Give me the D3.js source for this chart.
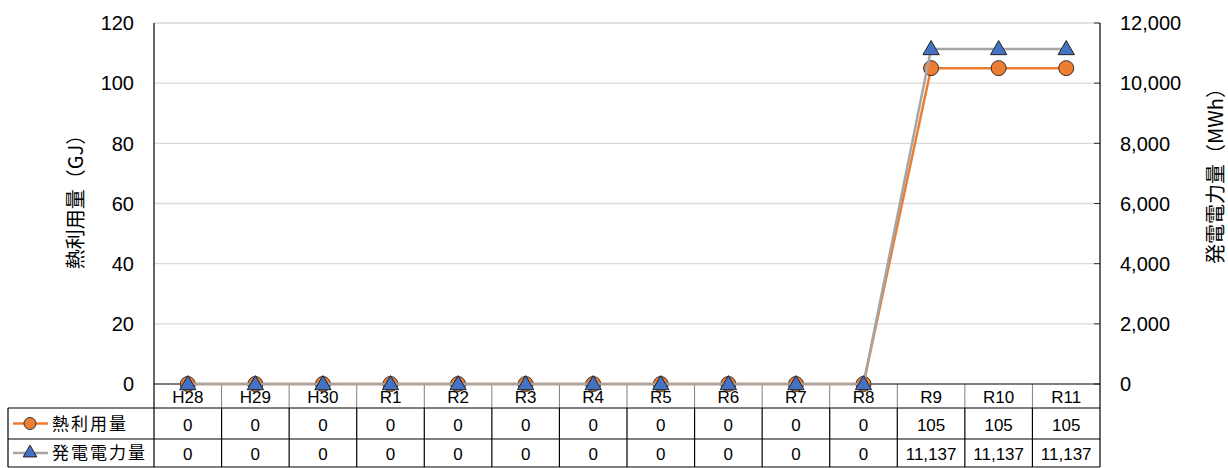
<!doctype html>
<html>
<head>
<meta charset="utf-8">
<script src="https://cdn.jsdelivr.net/npm/d3@7"></script>
<style>
  body { margin: 0; background: #fff; }
  svg text { font-family: "Liberation Sans", Arial, "Noto Sans CJK JP", sans-serif; fill: #000; }
  .jp { font-family: "Noto Sans CJK JP", sans-serif; }
</style>
</head>
<body>
<div id="chart"></div>
<script>
// data
const categories = ['H28', 'H29', 'H30', 'R1', 'R2', 'R3', 'R4', 'R5', 'R6', 'R7', 'R8', 'R9', 'R10', 'R11'];
const heatValues = [0, 0, 0, 0, 0, 0, 0, 0, 0, 0, 0, 105, 105, 105];
const powerValues = [0, 0, 0, 0, 0, 0, 0, 0, 0, 0, 0, 11137, 11137, 11137];
const leftTicks = [0, 20, 40, 60, 80, 100, 120];
const rightTicks = [0, 2000, 4000, 6000, 8000, 10000, 12000];
const seriesNames = ['熱利用量', '発電電力量'];
const axisTitles = ['熱利用量（GJ）', '発電電力量（MWh）'];

const W = 1228, H = 468;
const plotL = 154, plotR = 1100, plotT = 23, plotB = 384;
const rowTop = 408, rowMid = 439, rowBot = 467, tableL = 8;

const svg = d3.select('#chart').append('svg')
  .attr('width', W).attr('height', H);

const x = d3.scaleBand().domain(categories).range([plotL, plotR]).padding(0);
const yL = d3.scaleLinear().domain([0, 120]).range([plotB, plotT]);
const yR = d3.scaleLinear().domain([0, 12000]).range([plotB, plotT]);
const fmt = d3.format(',');

// gridlines
svg.append('g').selectAll('line').data(leftTicks.filter(d => d > 0)).join('line')
  .attr('x1', plotL).attr('x2', plotR)
  .attr('y1', d => yL(d)).attr('y2', d => yL(d))
  .attr('stroke', '#d9d9d9').attr('stroke-width', 1.3);

// left tick labels
svg.append('g').selectAll('text').data(leftTicks).join('text')
  .attr('x', 134).attr('y', d => yL(d)).attr('dy', '0.36em')
  .attr('text-anchor', 'end').style('font-size', '20px')
  .text(d => d);

// right axis: inner ticks + labels
svg.append('g').selectAll('line').data(rightTicks).join('line')
  .attr('x1', plotR - 6).attr('x2', plotR)
  .attr('y1', d => yR(d)).attr('y2', d => yR(d))
  .attr('stroke', '#333').attr('stroke-width', 1);
svg.append('g').selectAll('text').data(rightTicks).join('text')
  .attr('x', 1120).attr('y', d => yR(d)).attr('dy', '0.36em')
  .attr('text-anchor', 'start').style('font-size', '20px')
  .text(d => fmt(d));

// axis titles
svg.append('text').attr('class', 'jp')
  .attr('transform', 'translate(83,197) rotate(-90)')
  .attr('text-anchor', 'middle').style('font-size', '20px')
  .text(axisTitles[0]);
svg.append('text').attr('class', 'jp')
  .attr('transform', 'translate(1223,171) rotate(-90)')
  .attr('text-anchor', 'middle').style('font-size', '20px')
  .text(axisTitles[1]);

// table lines
const tbl = svg.append('g');
// column separators in the category row (lighter)
tbl.selectAll('line.cat').data(categories.slice(1)).join('line').attr('class', 'cat')
  .attr('x1', d => x(d)).attr('x2', d => x(d))
  .attr('y1', plotB).attr('y2', rowTop)
  .attr('stroke', '#7f7f7f').attr('stroke-width', 1);
tbl.selectAll('line.col').data(categories.slice(1)).join('line').attr('class', 'col')
  .attr('x1', d => x(d)).attr('x2', d => x(d))
  .attr('y1', rowTop).attr('y2', rowBot)
  .attr('stroke', '#000').attr('stroke-width', 1.2);
[rowTop, rowMid, rowBot].forEach(yy => {
  tbl.append('line').attr('x1', tableL).attr('x2', plotR)
    .attr('y1', yy).attr('y2', yy).attr('stroke', '#000').attr('stroke-width', 1.2);
});
tbl.append('line').attr('x1', tableL).attr('x2', tableL)
  .attr('y1', rowTop).attr('y2', rowBot).attr('stroke', '#000').attr('stroke-width', 1.2);

// axis lines
svg.append('line').attr('x1', plotL).attr('x2', plotL).attr('y1', plotT).attr('y2', rowBot)
  .attr('stroke', '#000').attr('stroke-width', 1.2);
svg.append('line').attr('x1', plotR).attr('x2', plotR).attr('y1', plotT).attr('y2', rowBot)
  .attr('stroke', '#000').attr('stroke-width', 1.2);
svg.append('line').attr('x1', plotL).attr('x2', plotR).attr('y1', plotB).attr('y2', plotB)
  .attr('stroke', '#000').attr('stroke-width', 1.2);

// category labels
svg.append('g').selectAll('text').data(categories).join('text')
  .attr('x', d => x(d) + x.bandwidth() / 2).attr('y', 397).attr('dy', '0.36em')
  .attr('text-anchor', 'middle').style('font-size', '17px')
  .text(d => d);

// table values
const cx = d => x(d) + x.bandwidth() / 2;
svg.append('g').selectAll('text').data(categories).join('text')
  .attr('x', cx).attr('y', (rowTop + rowMid) / 2 + 1).attr('dy', '0.36em')
  .attr('text-anchor', 'middle').style('font-size', '17px')
  .text((d, i) => fmt(heatValues[i]));
svg.append('g').selectAll('text').data(categories).join('text')
  .attr('x', cx).attr('y', (rowMid + rowBot) / 2 + 1).attr('dy', '0.36em')
  .attr('text-anchor', 'middle').style('font-size', '17px')
  .text((d, i) => fmt(powerValues[i]));

// series
const orange = '#ed7d31', gray = '#a5a5a5', blue = '#4472c4';
const tri = d3.symbol().type(d3.symbolTriangle).size(115);

const heatLine = d3.line().x((d, i) => cx(categories[i])).y(d => yL(d));
const powerLine = d3.line().x((d, i) => cx(categories[i])).y(d => yR(d));

svg.append('path').datum(heatValues).attr('d', heatLine)
  .attr('fill', 'none').attr('stroke', orange).attr('stroke-width', 2.5);
svg.append('g').selectAll('circle').data(heatValues).join('circle')
  .attr('cx', (d, i) => cx(categories[i])).attr('cy', d => yL(d)).attr('r', 7.5)
  .attr('fill', orange).attr('stroke', '#333').attr('stroke-width', 1);

svg.append('path').datum(powerValues).attr('d', powerLine)
  .attr('fill', 'none').attr('stroke', gray).attr('stroke-width', 2.5);
svg.append('g').selectAll('path.m').data(powerValues).join('path').attr('class', 'm')
  .attr('d', tri)
  .attr('transform', (d, i) => `translate(${cx(categories[i])},${yR(d) + 1})`)
  .attr('fill', blue).attr('stroke', '#222').attr('stroke-width', 1);

// legend keys in table
const legendRows = [(rowTop + rowMid) / 2, (rowMid + rowBot) / 2];
const leg = svg.append('g');
legendRows.forEach((yy, k) => {
  leg.append('line').attr('x1', 13).attr('x2', 48).attr('y1', yy).attr('y2', yy)
    .attr('stroke', k === 0 ? orange : gray).attr('stroke-width', 2.5);
  if (k === 0) {
    leg.append('circle').attr('cx', 30).attr('cy', yy).attr('r', 6)
      .attr('fill', orange).attr('stroke', '#333').attr('stroke-width', 1);
  } else {
    leg.append('path').attr('d', d3.symbol().type(d3.symbolTriangle).size(80))
      .attr('transform', `translate(30,${yy})`)
      .attr('fill', blue).attr('stroke', '#222').attr('stroke-width', 1);
  }
  leg.append('text').attr('class', 'jp')
    .attr('x', 52).attr('y', yy).attr('dy', '0.36em')
    .style('font-size', '17px').style('letter-spacing', '2px')
    .text(seriesNames[k]);
});
</script>
</body>
</html>
